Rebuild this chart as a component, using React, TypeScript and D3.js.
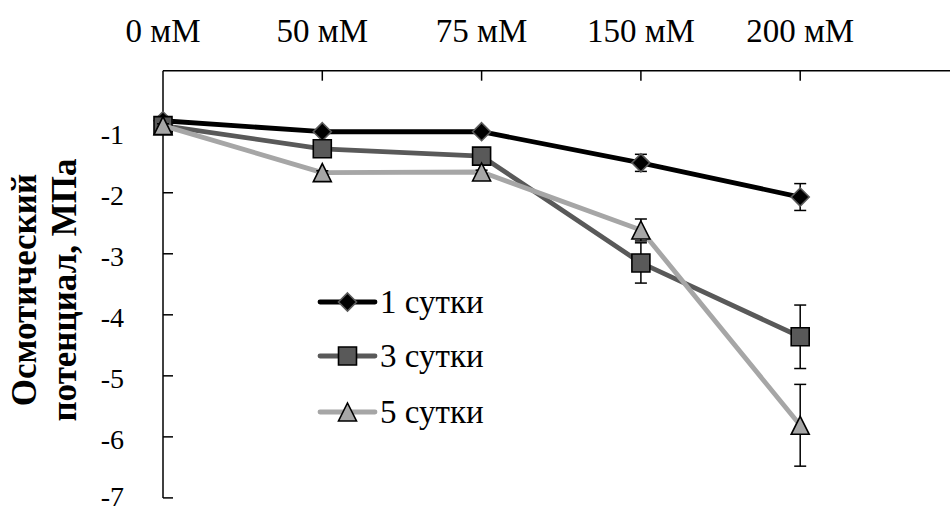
import React from "react";
import * as d3 from "d3";

// Concentration categories (top axis)
const categories = ["0 мМ", "50 мМ", "75 мМ", "150 мМ", "200 мМ"];

// Osmotic potential, MPa, per exposure duration
const day1Values = [-0.82, -1.0, -1.0, -1.51, -2.07];
const day1Errors = [0.03, 0.03, 0.03, 0.14, 0.22];
const day3Values = [-0.9, -1.28, -1.4, -3.15, -4.36];
const day3Errors = [0.03, 0.03, 0.03, 0.33, 0.52];
const day5Values = [-0.9, -1.67, -1.66, -2.61, -5.81];
const day5Errors = [0.03, 0.03, 0.03, 0.18, 0.67];

const seriesNames = ["1 сутки", "3 сутки", "5 сутки"];
const yTicks = [-1, -2, -3, -4, -5, -6, -7];
const yTitleLines = ["Осмотический", "потенциал, МПа"];

const W = 950;
const H = 508;
const FONT = "Liberation Serif, Times New Roman, serif";

type Marker = "diamond" | "square" | "triangle";
interface Series {
  name: string;
  values: number[];
  errors: number[];
  line: string;
  fill: string;
  stroke: string;
  marker: Marker;
}

const series: Series[] = [
  { name: seriesNames[0], values: day1Values, errors: day1Errors, line: "#000000", fill: "#000000", stroke: "#595959", marker: "diamond" },
  { name: seriesNames[1], values: day3Values, errors: day3Errors, line: "#595959", fill: "#595959", stroke: "#000000", marker: "square" },
  { name: seriesNames[2], values: day5Values, errors: day5Errors, line: "#a6a6a6", fill: "#a6a6a6", stroke: "#000000", marker: "triangle" },
];

const x = d3.scaleLinear().domain([0, categories.length]).range([163, 959.5]);
const y = d3.scaleLinear().domain([0, -7]).range([70.7, 497.9]);

function markerPath(m: Marker): string {
  const p = d3.path();
  if (m === "diamond") {
    const r = 9;
    p.moveTo(0, -r);
    p.lineTo(r, 0);
    p.lineTo(0, r);
    p.lineTo(-r, 0);
    p.closePath();
  } else if (m === "square") {
    const r = 9;
    p.rect(-r, -r, 2 * r, 2 * r);
  } else {
    const w = 18, h = 18;
    p.moveTo(0, -h / 2);
    p.lineTo(w / 2, h / 2);
    p.lineTo(-w / 2, h / 2);
    p.closePath();
  }
  return p.toString();
}

function MarkerShape({ s, cx, cy }: { s: Series; cx: number; cy: number }) {
  return (
    <path
      d={markerPath(s.marker)}
      transform={`translate(${cx},${cy})`}
      fill={s.fill}
      stroke={s.stroke}
      strokeWidth={1.6}
    />
  );
}

const textStyle: React.CSSProperties = { fontFamily: FONT };

export default function App() {
  const line = d3
    .line<number>()
    .x((_, i) => x(i))
    .y((v) => y(v));

  const legendRows = [302, 356, 412];

  return (
    <svg
      width={W}
      height={H}
      viewBox={`0 0 ${W} ${H}`}
      style={{ position: "absolute", left: 0, top: 0, background: "#fff" }}
    >
      <rect width={W} height={H} fill="#fff" />

      {/* Y axis */}
      <line x1={x(0)} x2={x(0)} y1={y(0)} y2={y(-7)} stroke="#000" strokeWidth={1.5} />
      {yTicks.map((t) => (
        <g key={t}>
          <line x1={x(0)} x2={x(0) + 10} y1={y(t)} y2={y(t)} stroke="#000" strokeWidth={1.5} />
          <text x={124} y={Math.min(y(t) + 12.5, 506)} fontSize={28} textAnchor="end" fill="#000" style={textStyle}>
            {t}
          </text>
        </g>
      ))}

      {/* Top category axis */}
      <line x1={x(0)} x2={W} y1={y(0)} y2={y(0)} stroke="#000" strokeWidth={1.5} />
      {categories.map((c, i) => (
        <g key={c}>
          {i > 0 && (
            <line x1={x(i)} x2={x(i)} y1={y(0)} y2={y(0) + 10} stroke="#000" strokeWidth={1.5} />
          )}
          <text x={x(i)} y={41.5} fontSize={33} textAnchor="middle" fill="#000" style={textStyle}>
            {c}
          </text>
        </g>
      ))}

      {/* Axis title */}
      {yTitleLines.map((t, i) => (
        <text
          key={t}
          transform={`translate(${36 + i * 40},290) rotate(-90)`}
          fontSize={35}
          fontWeight="bold"
          textAnchor="middle"
          fill="#000"
          style={textStyle}
        >
          {t}
        </text>
      ))}

      {/* Series */}
      {series.map((s) => (
        <g key={s.name}>
          <path d={line(s.values)!} fill="none" stroke={s.line} strokeWidth={4.8} strokeLinejoin="round" strokeLinecap="round" />
          {s.values.map((v, i) => {
            const e = s.errors[i];
            const top = y(v + e);
            const bot = y(v - e);
            return (
              <g key={i} stroke="#000" strokeWidth={1.5}>
                <line x1={x(i)} x2={x(i)} y1={top} y2={bot} />
                <line x1={x(i) - 6} x2={x(i) + 6} y1={top} y2={top} />
                <line x1={x(i) - 6} x2={x(i) + 6} y1={bot} y2={bot} />
              </g>
            );
          })}
          {s.values.map((v, i) => (
            <MarkerShape key={i} s={s} cx={x(i)} cy={y(v)} />
          ))}
        </g>
      ))}

      {/* Legend */}
      {series.map((s, i) => (
        <g key={s.name}>
          <line x1={320} x2={375} y1={legendRows[i]} y2={legendRows[i]} stroke={s.line} strokeWidth={4.8} strokeLinecap="round" />
          <MarkerShape s={s} cx={347.5} cy={legendRows[i]} />
          <text x={380} y={legendRows[i] + 11} fontSize={33} fill="#000" style={textStyle}>
            {s.name}
          </text>
        </g>
      ))}
    </svg>
  );
}
